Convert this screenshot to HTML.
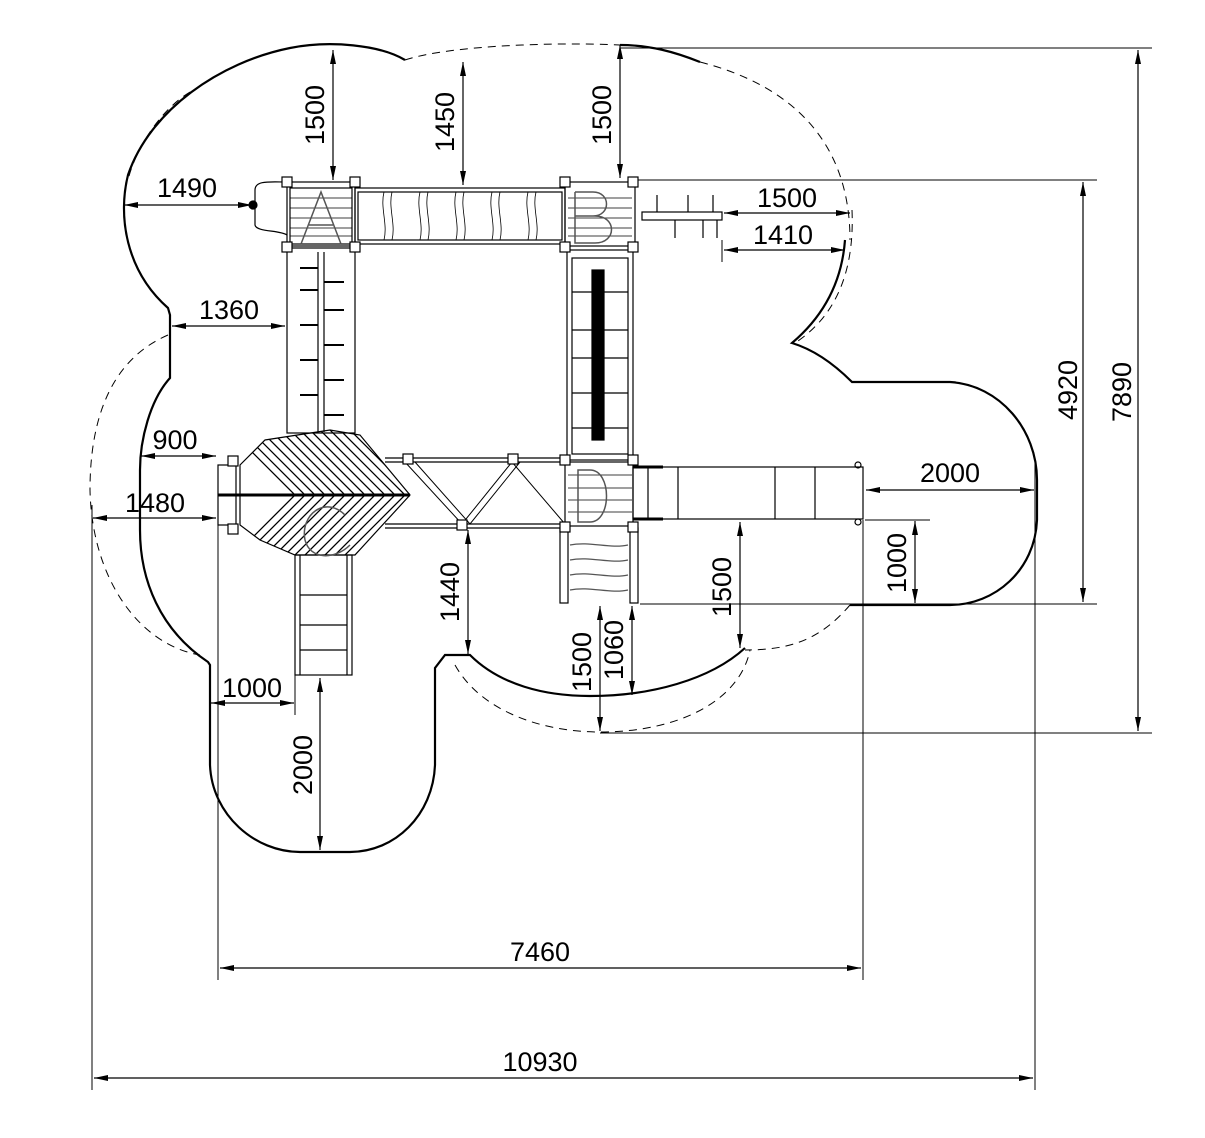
<!DOCTYPE html>
<html><head><meta charset="utf-8"><style>
html,body{margin:0;padding:0;background:#fff}
svg{display:block}
text{font-family:"Liberation Sans",sans-serif;font-size:27px;fill:#000}
</style></head><body>
<svg width="1205" height="1138" viewBox="0 0 1205 1138" xmlns="http://www.w3.org/2000/svg">
<defs>
<marker id="a" viewBox="0 0 14 6" refX="14" refY="3" markerWidth="14" markerHeight="6" orient="auto-start-reverse" markerUnits="userSpaceOnUse"><path d="M0,0 L14,3 L0,6z" fill="#000"/></marker>
<clipPath id="ct"><path d="M240,465L265,440L330,430L360,435L410,495L240,495Z"/></clipPath>
<clipPath id="cb"><path d="M240,495L410,495L355,555L295,555L260,540L240,525Z"/></clipPath>
</defs>
<!-- Safety zone solid outline -->
<g fill="none" stroke="#000" stroke-width="2.2">
<path d="M405,60 C380,45 330,40 290,48 C220,62 150,110 128,175 C118,215 125,270 168,308 L170,315 L170,378 C150,400 140,440 140,470 L140,530 C140,580 160,630 208,662 L210,665 L210,765 C212,815 255,852 300,852 L350,852 C395,852 433,815 435,765 L435,668 L445,655 L470,655 C500,685 545,696 590,696 C650,696 710,680 745,648"/>
<path d="M620,45 C650,45 675,52 700,62"/>
<path d="M845,240 C842,280 825,315 792,343 C815,350 835,365 852,382 L950,382 C1000,385 1037,430 1037,480 L1037,520 C1035,570 995,605 950,605 L850,605"/>
</g>
<g fill="none" stroke="#000" stroke-width="1" stroke-dasharray="8,6">
<path d="M405,60 C450,45 560,42 620,45"/>
<path d="M700,62 C790,85 850,140 850,240"/>
<path d="M852,210 C855,280 830,320 795,343"/>
<path d="M190,92 C160,110 135,150 128,180"/>
<path d="M168,335 C110,360 90,420 90,490 C92,580 140,645 200,655"/>
<path d="M455,665 C480,710 540,732 600,732 C680,732 740,700 750,650"/>
<path d="M850,605 C820,640 790,650 745,650"/>
</g>
<g stroke="#000" stroke-width="1" fill="none">
<line x1="620" y1="48" x2="1152" y2="48"/>
<line x1="635" y1="180" x2="1097" y2="180"/>
<line x1="640" y1="604" x2="1097" y2="604"/>
<line x1="600" y1="733" x2="1152" y2="733"/>
<line x1="92" y1="505" x2="92" y2="1090"/>
<line x1="1035" y1="460" x2="1035" y2="1090"/>
<line x1="218" y1="520" x2="218" y2="980"/>
<line x1="863" y1="520" x2="863" y2="980"/>
<line x1="865" y1="520" x2="930" y2="520"/>
<line x1="295" y1="675" x2="295" y2="715"/>
<line x1="722" y1="240" x2="722" y2="262"/>
</g>
<g stroke="#000" stroke-width="1.2" marker-start="url(#a)" marker-end="url(#a)">
<line x1="333" y1="50" x2="333" y2="180"/>
<line x1="463" y1="62" x2="463" y2="185"/>
<line x1="620" y1="45" x2="620" y2="178"/>
<line x1="124" y1="205" x2="252" y2="205"/>
<line x1="724" y1="213" x2="850" y2="213"/>
<line x1="724" y1="250" x2="845" y2="250"/>
<line x1="172" y1="326" x2="285" y2="326"/>
<line x1="141" y1="456" x2="216" y2="456"/>
<line x1="93" y1="518" x2="216" y2="518"/>
<line x1="866" y1="490" x2="1034" y2="490"/>
<line x1="915" y1="521" x2="915" y2="603"/>
<line x1="740" y1="522" x2="740" y2="648"/>
<line x1="468" y1="530" x2="468" y2="654"/>
<line x1="600" y1="606" x2="600" y2="731"/>
<line x1="632" y1="606" x2="632" y2="695"/>
<line x1="211" y1="703" x2="294" y2="703"/>
<line x1="320" y1="678" x2="320" y2="850"/>
<line x1="220" y1="968" x2="861" y2="968"/>
<line x1="94" y1="1078" x2="1033" y2="1078"/>
<line x1="1083" y1="182" x2="1083" y2="602"/>
<line x1="1138" y1="50" x2="1138" y2="731"/>
</g>
<g>
<text x="187" y="197" text-anchor="middle">1490</text>
<text x="787" y="207" text-anchor="middle">1500</text>
<text x="783" y="244" text-anchor="middle">1410</text>
<text x="229" y="319" text-anchor="middle">1360</text>
<text x="175" y="449" text-anchor="middle">900</text>
<text x="155" y="512" text-anchor="middle">1480</text>
<text x="950" y="482" text-anchor="middle">2000</text>
<text x="252" y="697" text-anchor="middle">1000</text>
<text x="540" y="961" text-anchor="middle">7460</text>
<text x="540" y="1071" text-anchor="middle">10930</text>
<text transform="translate(324,115) rotate(-90)" text-anchor="middle">1500</text>
<text transform="translate(454,122) rotate(-90)" text-anchor="middle">1450</text>
<text transform="translate(611,115) rotate(-90)" text-anchor="middle">1500</text>
<text transform="translate(906,563) rotate(-90)" text-anchor="middle">1000</text>
<text transform="translate(731,587) rotate(-90)" text-anchor="middle">1500</text>
<text transform="translate(459,592) rotate(-90)" text-anchor="middle">1440</text>
<text transform="translate(591,662) rotate(-90)" text-anchor="middle">1500</text>
<text transform="translate(623,650) rotate(-90)" text-anchor="middle">1060</text>
<text transform="translate(312,765) rotate(-90)" text-anchor="middle">2000</text>
<text transform="translate(1077,390) rotate(-90)" text-anchor="middle">4920</text>
<text transform="translate(1131,392) rotate(-90)" text-anchor="middle">7890</text>
</g>
<g fill="none" stroke="#000" stroke-width="1.2">
<rect x="287" y="182" width="68" height="64"/>
<rect x="290" y="188" width="62" height="56"/>
<path d="M290,198H352M290,208H352M290,218H352M290,228H352M290,236H352" stroke-width="0.8"/>
<path d="M287,182 C270,182 255,180 255,190 L255,225 C256,232 280,230 287,235"/>
<circle cx="253" cy="205" r="4" fill="#000"/>
<rect x="355" y="188" width="210" height="56"/>
<rect x="358" y="192" width="204" height="48"/>
<path d="M384,192c-4,16 4,32 0,48M392,192c-4,16 4,32 0,48M420,192c-4,16 4,32 0,48M428,192c-4,16 4,32 0,48M456,192c-4,16 4,32 0,48M464,192c-4,16 4,32 0,48M492,192c-4,16 4,32 0,48M500,192c-4,16 4,32 0,48M528,192c-4,16 4,32 0,48M536,192c-4,16 4,32 0,48" stroke-width="0.8"/>
<rect x="565" y="182" width="70" height="64"/>
<path d="M568,198H632M568,208H632M568,218H632M568,228H632M568,236H632" stroke-width="0.8"/>
<rect x="642" y="212" width="80" height="8"/>
<path d="M657,195v17M688,195v17M713,195v17M675,220v18M703,220v18M717,220v18"/>
<rect x="287" y="248" width="68" height="185"/>
<path d="M318,252V432M324,252V432"/>
<path d="M300,268h18M300,290h18M300,325h18M300,360h18M300,395h18M324,282h20M324,310h20M324,345h20M324,380h20M324,415h20" stroke-width="2"/>
<rect x="567" y="250" width="66" height="210"/>
<rect x="572" y="258" width="56" height="196"/>
<rect x="592" y="270" width="12" height="170" fill="#000"/>
<path d="M572,292H628M572,330H628M572,358H628M572,393H628M572,428H628"/>
<rect x="565" y="462" width="68" height="64"/>
<path d="M568,475H632M568,488H632M568,500H632M568,512H632" stroke-width="0.8"/>
<rect x="633" y="467" width="230" height="52"/>
<path d="M648,467v52M678,467v52M775,467v52M815,467v52"/>
<circle cx="858" cy="465" r="3"/><circle cx="858" cy="522" r="3"/>
<path d="M633,467h30M633,519h30" stroke-width="3"/>
<path d="M385,458H565M385,528H565M385,462H565M385,524H565"/>
<path d="M405,462L462,524L512,462L565,524M415,462L470,524L520,462" stroke-width="1"/>
<rect x="560" y="528" width="8" height="75"/><rect x="630" y="528" width="8" height="75"/>
<path d="M570,545c20,-4 40,4 58,0M570,560c20,-4 40,4 58,0M570,575c20,-4 40,4 58,0M570,590c20,-4 40,4 58,0" stroke="#555"/>
<rect x="218" y="465" width="18" height="60"/>
<path d="M240,465L265,440L330,430L360,435L410,495L355,555L295,555L260,540L240,525Z"/>
<g clip-path="url(#ct)" stroke-width="1.3">
<path d="M200,400l100,100M210,400l100,100M220,400l100,100M230,400l100,100M240,400l100,100M250,400l100,100M260,400l100,100M270,400l100,100M280,400l100,100M290,400l100,100M300,400l100,100M310,400l100,100M320,400l100,100M330,400l100,100M340,400l100,100M350,400l100,100"/>
</g>
<g clip-path="url(#cb)" stroke-width="1.3">
<path d="M200,590l100,-100M210,590l100,-100M220,590l100,-100M230,590l100,-100M240,590l100,-100M250,590l100,-100M260,590l100,-100M270,590l100,-100M280,590l100,-100M290,590l100,-100M300,590l100,-100M310,590l100,-100M320,590l100,-100M330,590l100,-100M340,590l100,-100M350,590l100,-100M360,590l100,-100M370,590l100,-100"/>
</g>
<path d="M218,495H410" stroke-width="3"/>
<rect x="295" y="555" width="57" height="120"/>
<path d="M300,555v120M347,555v120M300,595h47M300,625h47M300,650h47"/>
</g>
<g fill="#fff" stroke="#000" stroke-width="1.2">
<rect x="282" y="177" width="10" height="10"/><rect x="350" y="177" width="10" height="10"/>
<rect x="560" y="177" width="10" height="10"/><rect x="628" y="177" width="10" height="10"/>
<rect x="282" y="242" width="10" height="10"/><rect x="350" y="242" width="10" height="10"/>
<rect x="560" y="242" width="10" height="10"/><rect x="628" y="242" width="10" height="10"/>
<rect x="560" y="455" width="10" height="10"/><rect x="628" y="455" width="10" height="10"/>
<rect x="560" y="522" width="10" height="10"/><rect x="628" y="522" width="10" height="10"/>
<rect x="403" y="454" width="10" height="10"/><rect x="508" y="454" width="10" height="10"/>
<rect x="457" y="520" width="10" height="10"/>
<rect x="228" y="456" width="10" height="10"/><rect x="228" y="524" width="10" height="10"/>
</g>
<g fill="none" stroke="#555" stroke-width="1.5">
<path d="M301,244L321,192L341,244M309,225H333"/>
<path d="M575,192V243H595C617,243 617,216 595,216H575M575,192H593C611,192 611,216 593,216"/>
<path d="M578,470V522H590C612,522 612,470 590,470Z"/>
<path d="M345,515C325,495 300,515 305,540C310,560 335,560 350,545"/>
</g>
</svg>
</body></html>
